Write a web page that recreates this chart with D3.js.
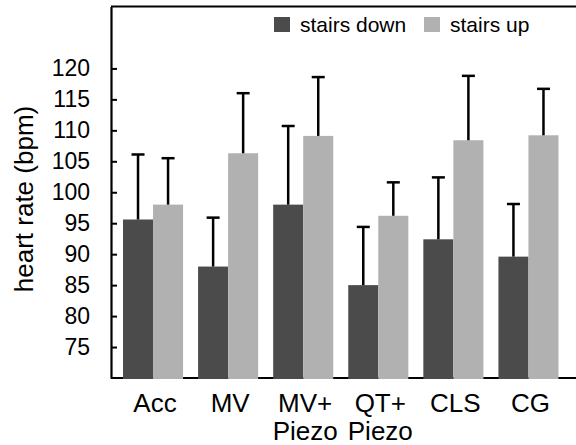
<!DOCTYPE html>
<html>
<head>
<meta charset="utf-8">
<script src="https://cdn.jsdelivr.net/npm/d3@7"></script>
<style>
  html, body { margin: 0; padding: 0; background: #fff; }
  svg { display: block; font-family: "Liberation Sans", Arial, sans-serif; }
</style>
</head>
<body>
<svg class="chart" width="576" height="445"></svg>
<script>
const categories = [['Acc'], ['MV'], ['MV+', 'Piezo'], ['QT+', 'Piezo'], ['CLS'], ['CG']];
const seriesNames = ['stairs down', 'stairs up'];
const stairsDown = [95.6, 88.0, 98.0, 85.0, 92.4, 89.6];
const stairsDownErr = [106.1, 95.9, 110.7, 94.4, 102.4, 98.1];
const stairsUp = [98.0, 106.3, 109.1, 96.2, 108.4, 109.2];
const stairsUpErr = [105.5, 116.0, 118.6, 101.6, 118.8, 116.7];
const yTicks = [75, 80, 85, 90, 95, 100, 105, 110, 115, 120];

const colors = { 'stairs down': '#4b4b4b', 'stairs up': '#b1b1b1' };

const startApp = () => {
  const svg = d3.select('.chart');
  const keys = categories.map(c => c.join(' '));

  const xScale = d3.scaleBand().domain(keys).range([115.5, 566]).paddingInner(0.2).paddingOuter(0.1);
  const subScale = d3.scaleBand().domain(seriesNames).range([0, xScale.bandwidth()]);
  const yScale = d3.scaleLinear().domain([70, 130]).range([378, 6.5]);

  const rows = keys.map((key, i) => ({
    key,
    values: [
      { name: 'stairs down', value: stairsDown[i], err: stairsDownErr[i] },
      { name: 'stairs up', value: stairsUp[i], err: stairsUpErr[i] },
    ],
  }));

  // frame: left, bottom and top lines
  svg.append('line')
    .attr('x1', 111).attr('x2', 576)
    .attr('y1', yScale(130)).attr('y2', yScale(130))
    .attr('stroke', '#000').attr('stroke-width', 2);
  svg.append('line')
    .attr('x1', 111).attr('x2', 576)
    .attr('y1', yScale(70)).attr('y2', yScale(70))
    .attr('stroke', '#000').attr('stroke-width', 2);

  const yAxis = d3.axisLeft(yScale)
    .tickValues(yTicks)
    .tickSizeInner(-6)
    .tickSizeOuter(0)
    .tickPadding(21);

  const yG = svg.append('g')
    .attr('transform', 'translate(111,0)')
    .call(yAxis);
  yG.select('.domain').attr('stroke-width', 2.2);
  yG.selectAll('.tick line').attr('stroke-width', 2);
  yG.selectAll('.tick text')
    .attr('font-size', 23)
    .attr('font-family', '"Liberation Sans", Arial, sans-serif')
    .attr('fill', '#000');

  const groups = svg.selectAll('.group')
    .data(rows)
    .enter()
    .append('g')
    .attr('class', 'group')
    .attr('transform', d => `translate(${xScale(d.key)},0)`);

  groups.selectAll('rect')
    .data(d => d.values)
    .enter()
    .append('rect')
    .attr('x', d => subScale(d.name))
    .attr('width', subScale.bandwidth())
    .attr('y', d => yScale(d.value))
    .attr('height', d => yScale(70) - yScale(d.value) + 1)
    .attr('fill', d => colors[d.name]);

  const errs = groups.selectAll('.err')
    .data(d => d.values)
    .enter()
    .append('g')
    .attr('class', 'err')
    .attr('transform', d => `translate(${subScale(d.name) + subScale.bandwidth() / 2},0)`);

  errs.append('line')
    .attr('y1', d => yScale(d.value))
    .attr('y2', d => yScale(d.err))
    .attr('stroke', '#000').attr('stroke-width', 2.5);
  errs.append('line')
    .attr('x1', -6.5).attr('x2', 6.5)
    .attr('y1', d => yScale(d.err))
    .attr('y2', d => yScale(d.err))
    .attr('stroke', '#000').attr('stroke-width', 2.5);

  // category labels
  const labels = svg.selectAll('.xlabel')
    .data(categories)
    .enter()
    .append('text')
    .attr('class', 'xlabel')
    .attr('text-anchor', 'middle')
    .attr('font-size', 26)
    .attr('fill', '#000')
    .attr('transform', (d, i) => `translate(${xScale(keys[i]) + xScale.bandwidth() / 2 + 2},411.5)`);
  labels.selectAll('tspan')
    .data(d => d)
    .enter()
    .append('tspan')
    .attr('x', 0)
    .attr('y', (d, i) => i * 28.5)
    .text(d => d);

  svg.append('text')
    .attr('transform', 'translate(33,199) rotate(-90)')
    .attr('text-anchor', 'middle')
    .attr('font-size', 26)
    .attr('fill', '#000')
    .text('heart rate (bpm)');

  // legend
  const legendX = [274, 424];
  const legend = svg.selectAll('.legend')
    .data(seriesNames)
    .enter()
    .append('g')
    .attr('class', 'legend')
    .attr('transform', (d, i) => `translate(${legendX[i]},17)`);
  legend.append('rect')
    .attr('width', 16).attr('height', 15)
    .attr('fill', d => colors[d]);
  legend.append('text')
    .attr('x', 26).attr('y', 15)
    .attr('font-size', 21)
    .attr('fill', '#000')
    .text(d => d);
};

window.onload = startApp;
</script>
</body>
</html>
